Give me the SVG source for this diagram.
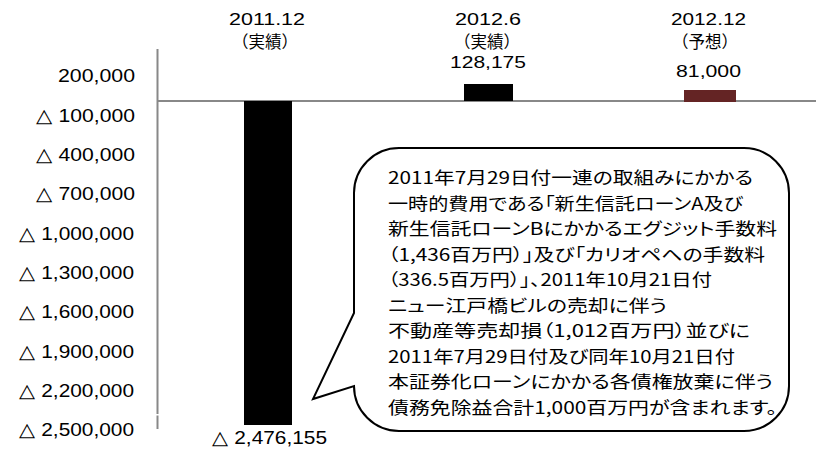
<svg xmlns="http://www.w3.org/2000/svg" width="816" height="449" viewBox="0 0 816 449">
<style>
.lat{font-family:"Liberation Sans",Arial,sans-serif;fill:#000;}
.ax{font-size:19px;text-anchor:end;}
.top{font-size:16.5px;text-anchor:middle;}
.cjk{font-family:"Noto Sans CJK JP","Noto Sans CJK SC",sans-serif;fill:#000;}
.ct{font-size:17px;font-feature-settings:"palt";}
.axis{stroke:#888;stroke-width:2;fill:none;}
</style>
<rect x="0" y="0" width="816" height="449" fill="#fff"/>
<g id="axes">
<line class="axis" x1="157.5" y1="49" x2="157.5" y2="414"/>
<line class="axis" x1="157.5" y1="415.5" x2="157.5" y2="429"/>
<line class="axis" x1="157" y1="101" x2="816" y2="101"/>
</g>
<g id="y-labels" class="lat ax">
<text x="135" y="82" textLength="77" lengthAdjust="spacingAndGlyphs">200,000</text>
<text x="135" y="121.5" textLength="99" lengthAdjust="spacingAndGlyphs">△ 100,000</text>
<text x="135" y="161" textLength="99" lengthAdjust="spacingAndGlyphs">△ 400,000</text>
<text x="135" y="200" textLength="99" lengthAdjust="spacingAndGlyphs">△ 700,000</text>
<text x="134" y="239.5" textLength="115" lengthAdjust="spacingAndGlyphs">△ 1,000,000</text>
<text x="134" y="279" textLength="115" lengthAdjust="spacingAndGlyphs">△ 1,300,000</text>
<text x="134" y="318" textLength="115" lengthAdjust="spacingAndGlyphs">△ 1,600,000</text>
<text x="134" y="357.5" textLength="115" lengthAdjust="spacingAndGlyphs">△ 1,900,000</text>
<text x="134" y="397" textLength="115" lengthAdjust="spacingAndGlyphs">△ 2,200,000</text>
<text x="134" y="436" textLength="115" lengthAdjust="spacingAndGlyphs">△ 2,500,000</text>
</g>
<g id="bars">
<rect id="bar-2011-12" x="244" y="101" width="48" height="324" fill="#000"/>
<rect id="bar-2012-6" x="464" y="84" width="49" height="17" fill="#000"/>
<rect id="bar-2012-12" x="684" y="90" width="52" height="12" fill="#642424"/>
</g>
<g id="cat-2011-12">
<text class="lat top" x="267" y="25" textLength="76" lengthAdjust="spacingAndGlyphs">2011.12</text>
<text class="cjk top" x="265" y="47.5" font-size="16">（実績）</text>
<text class="lat" x="269.5" y="444" font-size="19" text-anchor="middle" textLength="115" lengthAdjust="spacingAndGlyphs">△ 2,476,155</text>
</g>
<g id="cat-2012-6">
<text class="lat top" x="488" y="25" textLength="66" lengthAdjust="spacingAndGlyphs">2012.6</text>
<text class="cjk top" x="487" y="47.5" font-size="16">（実績）</text>
<text class="lat top" x="488" y="68" textLength="76" lengthAdjust="spacingAndGlyphs">128,175</text>
</g>
<g id="cat-2012-12">
<text class="lat top" x="708.5" y="25" textLength="75" lengthAdjust="spacingAndGlyphs">2012.12</text>
<text class="cjk top" x="705" y="47.5" font-size="16">（予想）</text>
<text class="lat top" x="708.5" y="77" textLength="65" lengthAdjust="spacingAndGlyphs">81,000</text>
</g>
<g id="callout">
<path d="M399,148 H744 A45 45 0 0 1 789,193 V386 A45 45 0 0 1 744,431 H399 A45 45 0 0 1 354,386 L313,399 L354,313 V193 A45 45 0 0 1 399,148 Z" fill="#fff" stroke="#000" stroke-width="2" stroke-linejoin="miter"/>
<g class="cjk ct">
<text x="388" y="184" textLength="365" lengthAdjust="spacingAndGlyphs">2011年7月29日付一連の取組みにかかる</text>
<text x="388" y="209.5" textLength="355" lengthAdjust="spacingAndGlyphs">一時的費用である「新生信託ローンA及び</text>
<text x="388" y="235" textLength="389" lengthAdjust="spacingAndGlyphs">新生信託ローンBにかかるエグジット手数料</text>
<text x="388" y="260.5" textLength="377" lengthAdjust="spacingAndGlyphs">（1,436百万円）」及び「カリオペへの手数料</text>
<text x="388" y="286" textLength="324" lengthAdjust="spacingAndGlyphs">（336.5百万円）」、2011年10月21日付</text>
<text x="388" y="311.5" textLength="279" lengthAdjust="spacingAndGlyphs">ニュー江戸橋ビルの売却に伴う</text>
<text x="388" y="337" textLength="362" lengthAdjust="spacingAndGlyphs">不動産等売却損（1,012百万円）並びに</text>
<text x="388" y="362.5" textLength="347" lengthAdjust="spacingAndGlyphs">2011年7月29日付及び同年10月21日付</text>
<text x="388" y="388" textLength="385" lengthAdjust="spacingAndGlyphs">本証券化ローンにかかる各債権放棄に伴う</text>
<text x="388" y="413.5" textLength="389" lengthAdjust="spacingAndGlyphs">債務免除益合計1,000百万円が含まれます。</text>
</g>
</g>
</svg>
